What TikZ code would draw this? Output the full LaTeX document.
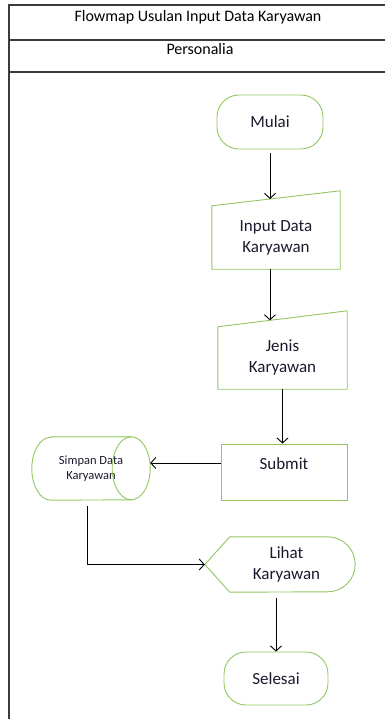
\documentclass[tikz,border=0pt]{standalone}
\usepackage{fontspec}
\setmainfont{Carlito}
\usetikzlibrary{calc,arrows.meta}
\definecolor{hijau}{RGB}{146,198,96}
\definecolor{teks}{RGB}{25,25,45}
\definecolor{bingkai}{RGB}{60,60,60}

\begin{document}
\begin{tikzpicture}[x=1pt, y=-1pt,
    >={Straight Barb[length=5pt,width=11pt]},
    garis/.style={draw=bingkai, line width=1.3pt},
    isi/.style={text=teks, font=\fontsize{17}{21}\selectfont, align=center},
    bentuk/.style={draw=hijau, line width=0.9pt},
    terminal/.style={isi, bentuk, rounded corners=22pt},
    panah/.style={->, line width=0.9pt}]
    \useasboundingbox (0,0) rectangle (385,719);

    % Bingkai swimlane
    \draw[garis] (9,719) -- (9,5) -- (385,5);
    \draw[garis] (9,40) -- (385,40);
    \draw[garis] (9,72) -- (385,72);
    \node[font=\fontsize{16}{19}\selectfont] (judul) at (198,17) {Flowmap Usulan Input Data Karyawan};
    \node[font=\fontsize{16}{19}\selectfont] (lane) at (200,49) {Personalia};

    % Mulai
    \node[terminal, minimum width=106pt, minimum height=54pt] (mulai) at (270,122) {Mulai};

    % Input Data Karyawan (manual input)
    \node[isi, minimum width=128pt, minimum height=63pt] (input) at (276,237.5) {Input Data\\Karyawan};
    \draw[bentuk] (input.south west) -- (input.north west) -- ([yshift=15pt]input.north east) -- (input.south east) -- cycle;
    \coordinate (input_atas) at ($(input.north west)!0.453!([yshift=15pt]input.north east)$);

    % Jenis Karyawan (manual input)
    \node[isi, minimum width=129pt, minimum height=62pt] (jenis) at (282.5,358) {Jenis\\Karyawan};
    \draw[bentuk] (jenis.south west) -- (jenis.north west) -- ([yshift=16pt]jenis.north east) -- (jenis.south east) -- cycle;
    \coordinate (jenis_atas) at ($(jenis.north west)!0.403!([yshift=16pt]jenis.north east)$);

    % Submit
    \node[isi, bentuk, minimum width=126pt, minimum height=56pt, text depth=16pt] (submit) at (284,472) {Submit};

    % Simpan Data Karyawan (penyimpanan)
    \node[text=teks, font=\fontsize{12.5}{15}\selectfont, align=center, minimum width=118pt, minimum height=63pt] (simpan) at (91,468.5) {Simpan Data\\Karyawan};
    \draw[bentuk] ([xshift=19pt]simpan.north west) -- ([xshift=-19pt]simpan.north east)
        arc[start angle=90, end angle=-90, x radius=19pt, y radius=31.5pt] -- ([xshift=19pt]simpan.south west)
        arc[start angle=270, end angle=90, x radius=19pt, y radius=31.5pt] -- cycle;
    \draw[bentuk] ([xshift=-19pt]simpan.north east) arc[start angle=90, end angle=270, x radius=19pt, y radius=31.5pt];

    % Lihat Karyawan (display)
    \node[isi, minimum width=137pt, minimum height=55pt] (lihat) at (286.5,564.5) {Lihat\\Karyawan};
    \draw[bentuk] ([xshift=-13pt]lihat.west) -- ([xshift=12pt]lihat.north west) -- ([xshift=-27.5pt]lihat.north east)
        arc[start angle=90, end angle=-90, radius=27.5pt] -- ([xshift=12pt]lihat.south west) -- cycle;
    \coordinate (lihat_ujung) at ([xshift=-13pt]lihat.west);

    % Selesai
    \node[terminal, minimum width=104pt, minimum height=53pt] (selesai) at (276,678.5) {Selesai};

    % Alur
    \draw[panah, shorten <=4pt] (mulai.south) -- (mulai.south |- input_atas);
    \draw[panah] (jenis_atas |- input.south) -- (jenis_atas);
    \draw[panah] (jenis.south) -- (jenis.south |- submit.north);
    \draw[panah] ([yshift=9pt]submit.west) -- ([yshift=9pt]submit.west -| simpan.east);
    \draw[panah, shorten <=6pt] ([xshift=-4pt]simpan.south) |- (lihat_ujung);
    \draw[panah, shorten <=6pt] (selesai.north |- lihat.south) -- (selesai.north);
\end{tikzpicture}
\end{document}
